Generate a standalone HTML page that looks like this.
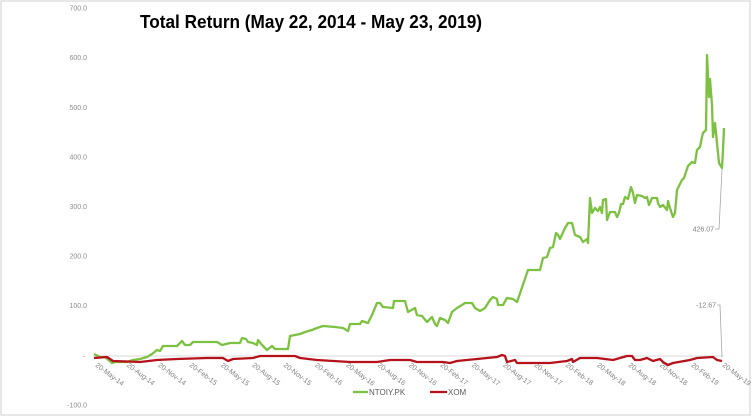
<!DOCTYPE html>
<html><head><meta charset="utf-8"><style>
html,body{margin:0;padding:0;background:#fff;}
svg{display:block;}
</style></head><body>
<svg width="754" height="417" viewBox="0 0 754 417" xmlns="http://www.w3.org/2000/svg" font-family="Liberation Sans, sans-serif">
<rect x="0" y="0" width="754" height="417" fill="#fff"/>
<rect x="1" y="1" width="749" height="414" fill="none" stroke="#d9d9d9" stroke-width="1.2"/>
<text x="140" y="28" font-size="18.5" font-weight="bold" fill="#000" textLength="342" lengthAdjust="spacingAndGlyphs">Total Return (May 22, 2014 - May 23, 2019)</text>
<g font-size="7" fill="#8c8c8c" text-anchor="end">
<text x="87" y="10.5">700.0</text>
<text x="87" y="60">600.0</text>
<text x="87" y="110">500.0</text>
<text x="87" y="159.5">400.0</text>
<text x="87" y="209">300.0</text>
<text x="87" y="258.5">200.0</text>
<text x="87" y="308">100.0</text>
<text x="85" y="358.5">-</text>
<text x="87" y="407.5">-100.0</text>
</g>
<line x1="94" y1="356" x2="723" y2="356" stroke="#d9d9d9" stroke-width="1"/>
<g font-size="7" fill="#808080">
<text transform="translate(95,366) rotate(37)">20-May-14</text>
<text transform="translate(126.4,366) rotate(37)">20-Aug-14</text>
<text transform="translate(157.7,366) rotate(37)">20-Nov-14</text>
<text transform="translate(189.1,366) rotate(37)">20-Feb-15</text>
<text transform="translate(220.4,366) rotate(37)">20-May-15</text>
<text transform="translate(251.8,366) rotate(37)">20-Aug-15</text>
<text transform="translate(283.1,366) rotate(37)">20-Nov-15</text>
<text transform="translate(314.5,366) rotate(37)">20-Feb-16</text>
<text transform="translate(345.8,366) rotate(37)">20-May-16</text>
<text transform="translate(377.2,366) rotate(37)">20-Aug-16</text>
<text transform="translate(408.5,366) rotate(37)">20-Nov-16</text>
<text transform="translate(439.9,366) rotate(37)">20-Feb-17</text>
<text transform="translate(471.2,366) rotate(37)">20-May-17</text>
<text transform="translate(502.6,366) rotate(37)">20-Aug-17</text>
<text transform="translate(533.9,366) rotate(37)">20-Nov-17</text>
<text transform="translate(565.3,366) rotate(37)">20-Feb-18</text>
<text transform="translate(596.6,366) rotate(37)">20-May-18</text>
<text transform="translate(628,366) rotate(37)">20-Aug-18</text>
<text transform="translate(659.3,366) rotate(37)">20-Nov-18</text>
<text transform="translate(690.7,366) rotate(37)">20-Feb-19</text>
<text transform="translate(722,366) rotate(37)">20-May-19</text>
</g>
<!-- callout leaders -->
<polyline points="717,305 720,305 722,357" fill="none" stroke="#a6a6a6" stroke-width="0.8"/>
<polyline points="715,229 719,229 724,130" fill="none" stroke="#a6a6a6" stroke-width="0.8"/>
<g font-size="7" fill="#7f7f7f" text-anchor="end">
<text x="716" y="307.5">-12.67</text>
<text x="714" y="231.5">426.07</text>
</g>
<polyline fill="none" stroke="#7dc142" stroke-width="2.3" stroke-linejoin="round" points="94,354 100,357 105,357 112,363 115,362 127,362 133,360 140,359 147,357 152,354 157,350 160,351 163,346 177,346 182,341 185,345 190,345 193,342 217,342 222,345 230,343 240,343 242,338 246,339 248,342 253,343 257,345 258,340 262,345 267,350 272,346 275,349 288,349 290,336 300,334 305,332 312,330 317,328 323,326 335,327 343,328 348,331 350,324 360,324 362,321 368,323 372,315 377,303 380,303 383,307 393,308 394,301 405,301 408,312 415,308 417,315 422,316 427,322 432,317 435,324 437,326 440,318 445,320 448,323 452,312 457,308 462,305 465,303 472,303 475,308 480,311 485,308 490,300 493,297 497,299 498,305 503,305 507,298 513,299 517,302 528,270 540,270 543,258 547,257 550,248 553,247 556,233 558,235 560,239 565,228 568,223 572,223 575,235 580,237 583,242 587,239 588,243 590,198 592,213 595,208 598,211 600,207 602,213 603,200 606,199 607,220 610,212 615,212 617,217 619,213 621,204 623,204 625,197 628,199 631,187 633,193 635,203 637,195 642,196 645,198 647,197 649,205 652,198 657,198 658,203 660,207 663,205 667,210 668,201 670,208 673,217 675,213 677,190 680,184 682,180 684,178 686,172 688,166 692,162 695,163 697,150 700,147 702,137 703,133 706,130 707,55 709,97 710,79 712,105 713,137 715,123 717,143 719,163 722,168 723,150 724,128"/>
<polyline fill="none" stroke="#b5121b" stroke-width="2.3" stroke-linejoin="round" points="94,358 107,357 113,361 140,362 157,360 177,359 207,358 223,358 228,361 233,359 253,358 260,356 295,356 300,358 317,360 350,362 377,362 390,360 410,360 417,362 443,362 450,363 457,361 477,359 497,357 502,355 505,356 507,362 515,360 517,363 550,363 567,361 572,359 573,362 580,358 597,358 613,360 627,356 632,356 635,360 640,360 647,358 653,361 660,359 663,362 668,365 673,363 690,360 697,358 713,357 717,360 722,361"/>
<!-- legend -->
<line x1="353" y1="392" x2="368" y2="392" stroke="#7dc142" stroke-width="2.3"/>
<text x="369" y="395" font-size="8" fill="#595959">NTOIY.PK</text>
<line x1="430" y1="392" x2="447" y2="392" stroke="#b5121b" stroke-width="2.3"/>
<text x="448" y="395" font-size="8" fill="#595959">XOM</text>
</svg>
</body></html>
